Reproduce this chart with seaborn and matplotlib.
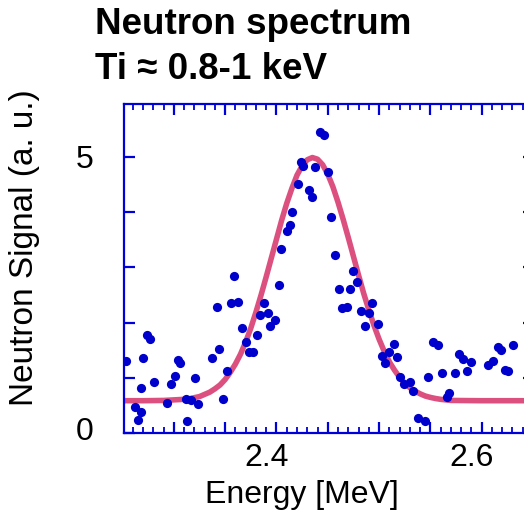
import matplotlib
matplotlib.use("Agg")
import matplotlib.pyplot as plt
import matplotlib.transforms as mtransforms
from matplotlib.ticker import MultipleLocator, FuncFormatter
import numpy as np
import pandas as pd
import seaborn as sns

# Measured neutron signal (energy in MeV, signal in arbitrary units)
energy = [
    2.4424, 2.4463, 2.4239, 2.4261, 2.4372, 2.4207, 2.4317, 2.4349, 2.4151, 2.4132,
    2.4099, 2.4041, 2.4499, 2.4531, 2.4570, 2.4749, 2.4788, 2.4609, 2.4716, 2.4641,
    2.4684, 2.4824, 2.4928, 2.4902, 2.4863, 2.4986, 2.5142, 2.5096, 2.5025, 2.5172,
    2.5060, 2.5204, 2.5243, 2.5302, 2.5334, 2.5528, 2.5577, 2.5480, 2.5616, 2.5740,
    2.5776, 2.5821, 2.5893, 2.5854, 2.5659, 2.5681, 2.5376, 2.5444, 2.6064, 2.6113,
    2.6156, 2.6191, 2.6227, 2.6253, 2.6308, 2.4027, 2.3589, 2.3878, 2.3423, 2.3554,
    2.3622, 2.3917, 2.3842, 2.3988, 2.3934, 2.3661, 2.2735, 2.2770, 2.3807, 2.3700,
    2.3440, 2.3735, 2.3774, 2.2696, 2.3368, 2.2533, 2.3043, 2.3059, 2.3515, 2.3008,
    2.3206, 2.2803, 2.2968, 2.2679, 2.3119, 2.3170, 2.3482, 2.2929, 2.3238, 2.2620,
    2.2675, 2.2655, 2.3130,
]
signal = [
    5.46, 5.40, 4.91, 4.84, 4.82, 4.51, 4.41, 4.28, 4.00, 3.77,
    3.66, 3.34, 4.72, 3.91, 3.22, 2.94, 2.74, 2.60, 2.61, 2.27,
    2.28, 2.21, 2.35, 2.18, 1.94, 1.97, 1.61, 1.47, 1.39, 1.37,
    1.26, 1.02, 0.89, 0.92, 0.76, 1.64, 1.60, 1.02, 1.09, 1.09,
    1.43, 1.34, 1.29, 1.13, 0.66, 0.72, 0.28, 0.21, 1.23, 1.30,
    1.56, 1.50, 1.15, 1.13, 1.60, 2.69, 2.84, 2.35, 2.28, 2.35,
    2.38, 2.18, 2.14, 2.04, 1.94, 1.91, 1.77, 1.70, 1.77, 1.64,
    1.53, 1.47, 1.47, 1.36, 1.36, 1.30, 1.33, 1.26, 1.13, 1.03,
    0.99, 0.92, 0.89, 0.82, 0.62, 0.59, 0.62, 0.55, 0.52, 0.48,
    0.38, 0.24, 0.21,
]

# Fitted spectrum curve
fit_energy = [
    2.25, 2.27, 2.29, 2.30, 2.31, 2.315, 2.32, 2.325, 2.33, 2.335, 2.34, 2.345,
    2.35, 2.355, 2.36, 2.365, 2.37, 2.375, 2.38, 2.385, 2.39, 2.395, 2.40,
    2.405, 2.41, 2.415, 2.42, 2.425, 2.43, 2.435, 2.44, 2.445, 2.45, 2.455,
    2.46, 2.465, 2.47, 2.475, 2.48, 2.485, 2.49, 2.495, 2.50, 2.505, 2.51,
    2.515, 2.52, 2.525, 2.53, 2.535, 2.54, 2.545, 2.55, 2.555, 2.56, 2.565,
    2.57, 2.60, 2.65,
]
fit_signal = [
    0.585, 0.585, 0.59, 0.60, 0.61, 0.62, 0.64, 0.66, 0.70, 0.74, 0.80, 0.87,
    0.97, 1.10, 1.25, 1.43, 1.65, 1.90, 2.19, 2.50, 2.83, 3.17, 3.51,
    3.85, 4.16, 4.43, 4.67, 4.84, 4.95, 4.99, 4.96, 4.86, 4.69, 4.46,
    4.18, 3.87, 3.54, 3.20, 2.86, 2.53, 2.23, 1.95, 1.70, 1.48, 1.29,
    1.14, 1.01, 0.90, 0.82, 0.76, 0.71, 0.67, 0.645, 0.625, 0.61, 0.60,
    0.59, 0.585, 0.585,
]

x_tick_labels = {2.4: "2.4", 2.6: "2.6"}
y_tick_labels = {0: "0", 5: "5"}

title_lines = ["Neutron spectrum", "Ti \u2248 0.8-1 keV"]
x_label = "Energy [MeV]"
y_label = "Neutron Signal (a. u.)"

points = pd.DataFrame({"energy": energy, "signal": signal})
fit = pd.DataFrame({"energy": fit_energy, "signal": fit_signal})

sns.set_theme(style="white")
plt.rcParams["font.family"] = ["Liberation Sans", "DejaVu Sans"]

W, H = 524, 516
fig = plt.figure(figsize=(W / 100, H / 100), dpi=100)
ax = fig.add_axes([124 / W, (H - 433) / H, (534 - 124) / W, (433 - 104) / H])

axis_blue = "#0000d8"
dot_blue = "#0000cc"
fit_pink = "#dc5080"

sns.lineplot(data=fit, x="energy", y="signal", ax=ax, color=fit_pink,
             linewidth=4.0, sort=False, zorder=2)
sns.scatterplot(data=points, x="energy", y="signal", ax=ax, color=dot_blue,
                s=44, linewidth=0, zorder=3)

ax.set_xlim(2.2514, 2.651)
ax.set_ylim(0, 5.96)

ax.xaxis.set_major_locator(MultipleLocator(0.05))
ax.xaxis.set_minor_locator(MultipleLocator(0.01))
ax.yaxis.set_major_locator(MultipleLocator(1))


def fmt_x(v, pos):
    for k, s in x_tick_labels.items():
        if abs(v - k) < 1e-6:
            return s
    return ""


def fmt_y(v, pos):
    for k, s in y_tick_labels.items():
        if abs(v - k) < 1e-6:
            return s
    return ""


ax.xaxis.set_major_formatter(FuncFormatter(fmt_x))
ax.yaxis.set_major_formatter(FuncFormatter(fmt_y))

for side in ["left", "right", "top", "bottom"]:
    ax.spines[side].set_visible(True)
    ax.spines[side].set_color(axis_blue)
    ax.spines[side].set_linewidth(1.6)

ax.tick_params(axis="x", which="major", direction="in", top=True, bottom=True,
               length=8, width=1.6, color=axis_blue, labelsize=23,
               labelcolor="black", pad=7)
ax.tick_params(axis="x", which="minor", direction="in", top=True, bottom=True,
               length=4, width=1.3, color=axis_blue)
ax.tick_params(axis="y", which="major", direction="in", left=True, right=True,
               length=8, width=1.6, color=axis_blue, labelsize=23,
               labelcolor="black", pad=22)
ax.grid(False)

# shift tick labels slightly, as on the original instrument plot
for lab in ax.get_xticklabels():
    lab.set_transform(lab.get_transform() +
                      mtransforms.ScaledTranslation(-10 / 100, 0, fig.dpi_scale_trans))
for lab, v in zip(ax.get_yticklabels(), ax.get_yticks()):
    if abs(v) < 1e-6:
        lab.set_transform(lab.get_transform() +
                          mtransforms.ScaledTranslation(0, 5 / 100, fig.dpi_scale_trans))

ax.set_xlabel("")
ax.set_ylabel("")

fig.text(301.5 / W, 1 - 503 / H, x_label, ha="center", va="baseline",
         fontsize=23, color="black")
fig.text(25 / W, 1 - 248 / H, y_label, ha="center", va="center",
         rotation=90, fontsize=24, color="black")

fig.text(95 / W, 1 - 34 / H, title_lines[0], ha="left", va="baseline",
         fontsize=26.5, fontweight="bold", color="black")
fig.text(95 / W, 1 - 79 / H, title_lines[1], ha="left", va="baseline",
         fontsize=26.5, fontweight="bold", color="black")

fig.savefig("out.png", dpi=100, facecolor="white")
